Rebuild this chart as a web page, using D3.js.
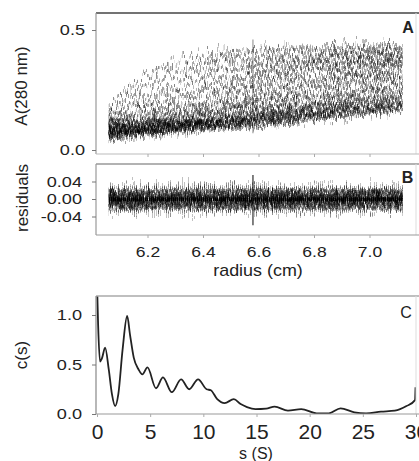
<!DOCTYPE html>
<html>
<head>
<meta charset="utf-8">
<title>Sedimentation velocity - c(s)</title>
<script src="https://cdn.jsdelivr.net/npm/d3@7"></script>
<style>
  body { margin: 0; background: #fff; }
  svg { display: block; overflow: hidden; }
  text { font-family: "Liberation Sans", Arial, sans-serif; fill: #222; }
</style>
</head>
<body>
<div id="chart"></div>
<script>
var radii = [6.06, 6.10, 6.15, 6.20, 6.30, 6.40, 6.50, 6.60, 6.70, 6.80, 6.90, 7.00, 7.12];

// A(280 nm) of each scan at those radii, earliest first
var scans = [
  [0.18, 0.22, 0.27, 0.31, 0.365, 0.395, 0.41, 0.415, 0.42, 0.42, 0.425, 0.43, 0.43],
  [0.16, 0.19, 0.23, 0.265, 0.32, 0.36, 0.385, 0.40, 0.405, 0.41, 0.415, 0.42, 0.425],
  [0.14, 0.16, 0.19, 0.22, 0.28, 0.33, 0.355, 0.37, 0.38, 0.39, 0.40, 0.405, 0.41],
  [0.13, 0.145, 0.17, 0.195, 0.245, 0.295, 0.33, 0.35, 0.365, 0.375, 0.385, 0.395, 0.40],
  [0.12, 0.13, 0.15, 0.17, 0.215, 0.26, 0.30, 0.33, 0.35, 0.365, 0.375, 0.385, 0.39],
  [0.115, 0.12, 0.135, 0.155, 0.19, 0.235, 0.275, 0.31, 0.335, 0.35, 0.362, 0.372, 0.38],
  [0.11, 0.115, 0.125, 0.14, 0.17, 0.21, 0.25, 0.285, 0.315, 0.335, 0.35, 0.36, 0.37],
  [0.105, 0.11, 0.118, 0.13, 0.158, 0.195, 0.232, 0.268, 0.298, 0.32, 0.338, 0.35, 0.362],
  [0.10, 0.105, 0.11, 0.12, 0.145, 0.18, 0.215, 0.25, 0.28, 0.305, 0.325, 0.34, 0.355],
  [0.095, 0.10, 0.105, 0.115, 0.135, 0.16, 0.19, 0.225, 0.255, 0.28, 0.30, 0.32, 0.335],
  [0.092, 0.097, 0.102, 0.111, 0.13, 0.154, 0.181, 0.212, 0.242, 0.268, 0.29, 0.31, 0.325],
  [0.09, 0.095, 0.10, 0.108, 0.125, 0.148, 0.172, 0.20, 0.23, 0.255, 0.28, 0.30, 0.315],
  [0.085, 0.09, 0.096, 0.103, 0.118, 0.138, 0.16, 0.185, 0.21, 0.235, 0.26, 0.28, 0.30],
  [0.082, 0.087, 0.092, 0.098, 0.112, 0.13, 0.15, 0.172, 0.195, 0.218, 0.24, 0.26, 0.28],
  [0.08, 0.084, 0.089, 0.095, 0.108, 0.124, 0.142, 0.162, 0.183, 0.204, 0.225, 0.245, 0.265],
  [0.077, 0.081, 0.086, 0.092, 0.104, 0.119, 0.136, 0.154, 0.173, 0.193, 0.212, 0.231, 0.25],
  [0.075, 0.079, 0.084, 0.089, 0.101, 0.115, 0.13, 0.147, 0.165, 0.183, 0.201, 0.219, 0.238],
  [0.073, 0.077, 0.082, 0.087, 0.098, 0.111, 0.125, 0.141, 0.158, 0.175, 0.192, 0.209, 0.228],
  [0.071, 0.075, 0.08, 0.085, 0.096, 0.108, 0.121, 0.136, 0.152, 0.168, 0.184, 0.2, 0.219],
  [0.07, 0.074, 0.078, 0.083, 0.094, 0.105, 0.118, 0.132, 0.147, 0.162, 0.177, 0.193, 0.211],
  [0.068, 0.072, 0.077, 0.082, 0.092, 0.103, 0.115, 0.128, 0.142, 0.156, 0.171, 0.186, 0.204],
  [0.067, 0.071, 0.075, 0.08, 0.09, 0.101, 0.112, 0.125, 0.138, 0.152, 0.166, 0.18, 0.198],
  [0.066, 0.07, 0.074, 0.079, 0.089, 0.099, 0.11, 0.122, 0.135, 0.148, 0.161, 0.175, 0.192],
  [0.065, 0.069, 0.073, 0.078, 0.087, 0.097, 0.108, 0.12, 0.132, 0.144, 0.157, 0.17, 0.187],
  [0.064, 0.068, 0.072, 0.077, 0.086, 0.096, 0.106, 0.117, 0.129, 0.141, 0.153, 0.166, 0.182],
  [0.063, 0.067, 0.071, 0.076, 0.085, 0.094, 0.104, 0.115, 0.126, 0.138, 0.15, 0.162, 0.178],
  [0.062, 0.066, 0.07, 0.075, 0.084, 0.093, 0.103, 0.113, 0.124, 0.135, 0.147, 0.159, 0.175]
];

// residual of the fit: zero on average, the scatter is drawn as a noise texture
var residualMean = [0, 0, 0, 0, 0, 0, 0, 0, 0, 0, 0, 0, 0];

// optical glitch at one radius that shows up in every scan
var glitchRadius = 6.58;
var glitchAbs = [0.07, 0.46];
var glitchRes = [-0.06, 0.055];

var radiusTicks = [6.2, 6.4, 6.6, 6.8, 7.0];
var absTicks = [0.0, 0.5];
var resTicks = [-0.04, 0.00, 0.04];

// c(s) distribution
var sValues = [0.1, 0.2, 0.38, 0.55, 0.86, 1.2, 1.5, 1.8, 2.1, 2.5, 2.93, 3.2, 3.55, 4.0, 4.36, 4.84,
  5.64, 6.3, 7.13, 8.0, 8.76, 9.6, 10.4, 10.8, 11.4, 12.1, 12.96, 13.6, 14.2, 15.0, 16.0, 16.8,
  18.05, 19.3, 20.75, 21.9, 23.0, 24.3, 25.4, 26.8, 28.1, 29.2, 30.0, 30.05];
var cValues = [1.3, 0.9, 0.53, 0.56, 0.67, 0.45, 0.2, 0.08, 0.2, 0.65, 0.99, 0.8, 0.57, 0.45, 0.40, 0.47,
  0.26, 0.37, 0.22, 0.35, 0.25, 0.35, 0.25, 0.24, 0.15, 0.11, 0.15, 0.10, 0.07, 0.05, 0.055, 0.075,
  0.035, 0.05, 0.007, 0.007, 0.057, 0.017, 0.007, 0.023, 0.033, 0.08, 0.14, 0.27];
var sTicks = [0, 5, 10, 15, 20, 25, 30];
var cTicks = [0.0, 0.5, 1.0];

var width = 419, height = 461;
var left = 96, right = 416;
var topA = 13, botA = 154, topB = 164, botB = 235, topC = 296, botC = 414;
var stretch = 1.17;

var svg = d3.select("#chart").append("svg")
  .attr("width", width)
  .attr("height", height);
var defs = svg.append("defs");

var x = d3.scaleLinear().domain([6.0, 7.2]).range([92, 425]);
var yA = d3.scaleLinear().domain([0, 0.5]).range([150, 30]);
var yB = d3.scaleLinear().domain([-0.04, 0.04]).range([216.5, 181.5]);
var xC = d3.scaleLinear().domain([0, 30]).range([96, 415]);
var yC = d3.scaleLinear().domain([0, 1]).range([414, 315]);

// one displacement filter per trace so that overlapping traces get their own noise
function noiseFilter(id, seed, y0, y1, freq, amp, scale, grow) {
  var f = defs.append("filter").attr("id", id)
    .attr("filterUnits", "userSpaceOnUse")
    .attr("x", 80).attr("y", y0).attr("width", 360).attr("height", y1 - y0)
    .attr("color-interpolation-filters", "sRGB");
  f.append("feTurbulence").attr("type", "fractalNoise").attr("baseFrequency", freq)
    .attr("numOctaves", 2).attr("seed", seed).attr("result", "t");
  f.append("feColorMatrix").attr("in", "t").attr("type", "matrix")
    .attr("values", "0 0 0 0 0.5  0 " + amp + " 0 0 " + (0.5 - amp / 2) + "  0 0 0 0 0  0 0 0 0 1")
    .attr("result", "m");
  f.append("feDisplacementMap").attr("in", "SourceGraphic").attr("in2", "m")
    .attr("scale", scale).attr("xChannelSelector", "R").attr("yChannelSelector", "G")
    .attr("result", "d");
  // short vertical strokes, like the jagged traces of the scanner
  f.append("feMorphology").attr("in", "d").attr("operator", "dilate").attr("radius", "0 " + grow);
}

function clip(id, y0, y1) {
  defs.append("clipPath").attr("id", id).append("rect")
    .attr("x", left).attr("y", y0).attr("width", right - left).attr("height", y1 - y0);
}
clip("clipA", topA, botA);
clip("clipB", topB, botB);
clip("clipC", topC, botC);

// horizontal tick labels in the figure are a bit wider than the font
function widen(sel, k) {
  sel.each(function() {
    var t = d3.select(this);
    var tx = +t.attr("x") || 0;
    t.attr("x", 0).attr("transform", "translate(" + tx + ",0) scale(" + k + ",1)");
  });
}

function frame(y0, y1, cTop, cLeft, cBot) {
  svg.append("line").attr("x1", left).attr("x2", width).attr("y1", y0).attr("y2", y0)
    .attr("stroke", cTop).attr("stroke-width", 1.4);
  svg.append("line").attr("x1", left).attr("x2", left).attr("y1", y0).attr("y2", y1)
    .attr("stroke", cLeft).attr("stroke-width", 1.2);
  svg.append("line").attr("x1", right).attr("x2", right).attr("y1", y0).attr("y2", y1)
    .attr("stroke", "#ddd").attr("stroke-width", 1);
  svg.append("line").attr("x1", left).attr("x2", width).attr("y1", y1).attr("y2", y1)
    .attr("stroke", cBot).attr("stroke-width", 1.2);
}

// ---------- panel A: absorbance scans ----------
var lineA = d3.line()
  .x(function(d, i) { return x(radii[i]); })
  .y(function(d) { return yA(d); })
  .curve(d3.curveMonotoneX);

var gA = svg.append("g").attr("clip-path", "url(#clipA)");
scans.forEach(function(scan, i) {
  noiseFilter("nA" + i, i + 3, topA - 10, botA + 10, "0.45 0.06", 1.4, 20, 1);
  gA.append("path").datum(scan)
    .attr("d", lineA)
    .attr("fill", "none")
    .attr("stroke", "#000")
    .attr("stroke-width", 0.9)
    .attr("stroke-opacity", 0.55)
    .attr("filter", "url(#nA" + i + ")");
});
gA.append("line")
  .attr("x1", x(glitchRadius)).attr("x2", x(glitchRadius))
  .attr("y1", yA(glitchAbs[0])).attr("y2", yA(glitchAbs[1]))
  .attr("stroke", "#222").attr("stroke-width", 1.2).attr("stroke-opacity", 0.45);

frame(topA, botA, "#444", "#999", "#bbb");

var axA = svg.append("g").attr("transform", "translate(" + left + ",0)")
  .call(d3.axisLeft(yA).tickValues(absTicks).tickFormat(d3.format(".1f")).tickSize(4).tickPadding(7));
axA.select(".domain").remove();
axA.selectAll("line").attr("stroke", "#777");
axA.selectAll("text").style("font-size", "15.5px");
widen(axA.selectAll("text"), stretch);

var axAx = svg.append("g").attr("transform", "translate(0," + botA + ")")
  .call(d3.axisBottom(x).tickValues(radiusTicks).tickSize(3).tickFormat(""));
axAx.select(".domain").remove();
axAx.selectAll("line").attr("stroke", "#aaa");

svg.append("text").attr("x", 408).attr("y", 33).attr("text-anchor", "middle")
  .style("font-size", "16px").style("font-weight", "bold").text("A");

svg.append("text").attr("transform", "translate(27,86) rotate(-90)")
  .attr("text-anchor", "middle").style("font-size", "17px").text("A(280 nm)");

// ---------- panel B: residuals ----------
var lineB = d3.line()
  .x(function(d, i) { return x(radii[i]); })
  .y(function(d) { return yB(d); });

var gB = svg.append("g").attr("clip-path", "url(#clipB)");
scans.forEach(function(scan, i) {
  noiseFilter("nB" + i, i + 40, topB - 10, botB + 10, "0.5 0.08", 1.3, 40, 1);
  gB.append("path").datum(residualMean)
    .attr("d", lineB)
    .attr("fill", "none")
    .attr("stroke", "#000")
    .attr("stroke-width", 0.9)
    .attr("stroke-opacity", 0.55)
    .attr("filter", "url(#nB" + i + ")");
});
gB.append("line")
  .attr("x1", x(glitchRadius)).attr("x2", x(glitchRadius))
  .attr("y1", yB(glitchRes[0])).attr("y2", yB(glitchRes[1]))
  .attr("stroke", "#111").attr("stroke-width", 1.5).attr("stroke-opacity", 0.7);

frame(topB, botB, "#999", "#999", "#999");

var axB = svg.append("g").attr("transform", "translate(" + left + ",0)")
  .call(d3.axisLeft(yB).tickValues(resTicks).tickFormat(d3.format(".2f")).tickSize(4).tickPadding(10));
axB.select(".domain").remove();
axB.selectAll("line").attr("stroke", "#777");
axB.selectAll("text").style("font-size", "15.5px").text(function(d) { return d3.format(".2f")(d).replace("−", "-"); });
widen(axB.selectAll("text"), stretch);

var axBx = svg.append("g").attr("transform", "translate(0," + botB + ")")
  .call(d3.axisBottom(x).tickValues(radiusTicks).tickFormat(d3.format(".1f")).tickSize(3).tickPadding(8));
axBx.select(".domain").remove();
axBx.selectAll("line").attr("stroke", "#aaa");
axBx.selectAll("text").style("font-size", "15px");
widen(axBx.selectAll("text"), stretch);

svg.append("text").attr("x", 407.5).attr("y", 183).attr("text-anchor", "middle")
  .style("font-size", "16px").style("font-weight", "bold").text("B");

svg.append("text").attr("transform", "translate(28,198) rotate(-90)")
  .attr("text-anchor", "middle").style("font-size", "17px").text("residuals");

svg.append("text").attr("transform", "translate(258,276) scale(1.12,1)")
  .attr("text-anchor", "middle").style("font-size", "16px").text("radius (cm)");

// ---------- panel C: c(s) ----------
var lineC = d3.line()
  .x(function(d, i) { return xC(sValues[i]); })
  .y(function(d) { return yC(d); })
  .curve(d3.curveMonotoneX);

svg.append("g").attr("clip-path", "url(#clipC)")
  .append("path").datum(cValues)
  .attr("d", lineC)
  .attr("fill", "none")
  .attr("stroke", "#222")
  .attr("stroke-width", 1.8);

frame(topC, botC, "#aaa", "#888", "#999");

var axC = svg.append("g").attr("transform", "translate(" + left + ",0)")
  .call(d3.axisLeft(yC).tickValues(cTicks).tickFormat(d3.format(".1f")).tickSize(4).tickPadding(10));
axC.select(".domain").remove();
axC.selectAll("line").attr("stroke", "#777");
axC.selectAll("text").style("font-size", "15.5px");
widen(axC.selectAll("text"), stretch);

var axCx = svg.append("g").attr("transform", "translate(1," + botC + ")")
  .call(d3.axisBottom(xC).tickValues(sTicks).tickSize(3).tickPadding(7));
axCx.select(".domain").remove();
axCx.selectAll("line").attr("stroke", "#aaa");
axCx.selectAll("text").style("font-size", "21px");

svg.append("text").attr("x", 406).attr("y", 318).attr("text-anchor", "middle")
  .style("font-size", "16px").text("C");

svg.append("text").attr("transform", "translate(27,355) rotate(-90)")
  .attr("text-anchor", "middle").style("font-size", "17px").text("c(s)");

svg.append("text").attr("x", 256).attr("y", 459).attr("text-anchor", "middle")
  .style("font-size", "16px").text("s (S)");
</script>
</body>
</html>
